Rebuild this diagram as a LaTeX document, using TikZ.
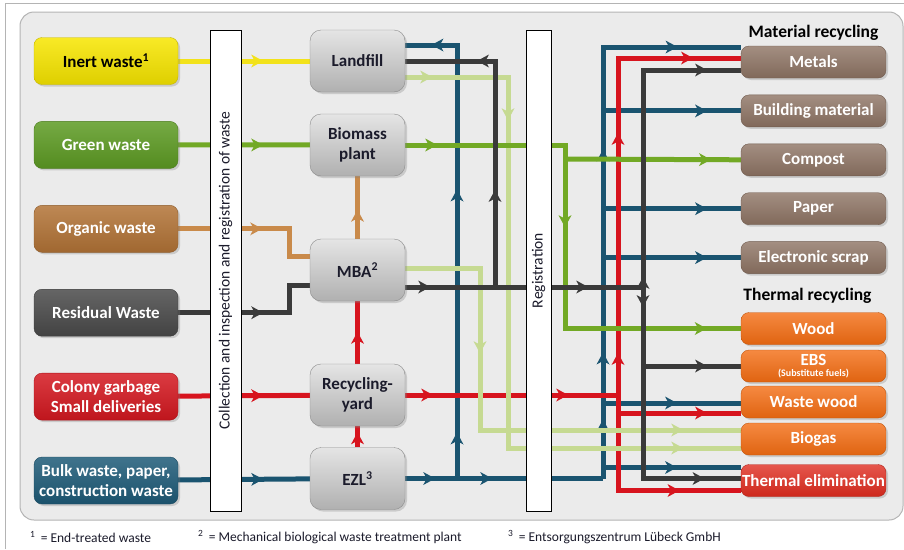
\documentclass[tikz,border=0pt]{standalone}
\usepackage{fontspec}
\setmainfont{Carlito}
\usetikzlibrary{arrows.meta, positioning, shadows, decorations.markings}

\definecolor{framebg}{HTML}{EBEBEB}
\definecolor{frameline}{HTML}{B4B4B4}
\definecolor{cInert}{HTML}{F7E600}
\definecolor{cInertLn}{HTML}{F2E21A}
\definecolor{cGreen}{HTML}{5D9B23}
\definecolor{cGreenLn}{HTML}{72A925}
\definecolor{cOrganic}{HTML}{B27336}
\definecolor{cOrganicLn}{HTML}{C98A4A}
\definecolor{cResidual}{HTML}{4A4A4A}
\definecolor{cResidualLn}{HTML}{3A3A3A}
\definecolor{cColony}{HTML}{D41820}
\definecolor{cColonyLn}{HTML}{D7141E}
\definecolor{cBulk}{HTML}{1E5B78}
\definecolor{cBulkLn}{HTML}{1A5470}
\definecolor{cGas}{HTML}{C6DA92}
\definecolor{cMaterial}{HTML}{8C7262}
\definecolor{cThermal}{HTML}{F36C12}
\definecolor{cElim}{HTML}{DF2C1F}
\definecolor{cPlant}{HTML}{CFCFCF}
\definecolor{cPlantLn}{HTML}{8C8C8C}
\definecolor{cInk}{HTML}{1B1B2B}

\newcommand{\boxfont}{\fontsize{17}{20.5}\selectfont\bfseries}

\pgfdeclarelayer{frame}
\pgfdeclarelayer{lines}
\pgfsetlayers{frame,lines,main}

\begin{document}
\begin{tikzpicture}[x=1pt, y=-1pt, >={Stealth[length=12pt, width=13pt, inset=3.5pt, line width=0pt]},
        source/.style={rectangle, rounded corners=8pt, minimum width=144pt, minimum height=47pt, inner sep=0pt, align=center, font=\boxfont, text=white, draw=#1!80!black, top color=#1!85!white, bottom color=#1!90!black, drop shadow={opacity=0.3, shadow xshift=2pt, shadow yshift=-2pt}},
        plant/.style={rectangle, rounded corners=11pt, minimum width=95pt, minimum height=62pt, inner sep=0pt, align=center, font=\boxfont, text=cInk, draw=cPlantLn, top color=cPlant!55!white, bottom color=cPlant!85!black, drop shadow={opacity=0.3, shadow xshift=2pt, shadow yshift=-2pt}},
        target/.style={rectangle, rounded corners=8pt, minimum width=145pt, minimum height=32pt, inner sep=0pt, align=center, font=\boxfont, text=white, draw=#1!80!black, top color=#1!80!white, bottom color=#1!92!black, drop shadow={opacity=0.3, shadow xshift=2pt, shadow yshift=-2pt}},
        bar/.style={rectangle, draw=black, fill=white, line width=0.8pt, inner sep=0pt, font=\fontsize{15.5}{17}\selectfont, text=cInk},
        heading/.style={font=\fontsize{17.5}{19}\selectfont\bfseries, text=black, inner sep=0pt},
        foot/.style={font=\fontsize{13.5}{15}\selectfont, text=cInk, inner sep=0pt, anchor=west},
        flow/.style={line width=5pt},
        am/.style={postaction={decorate, decoration={markings, mark=at position #1 with {\arrow{>}}}}},
        inertline/.style={flow, color=cInertLn},
        greenline/.style={flow, color=cGreenLn},
        organicline/.style={flow, color=cOrganicLn},
        residualline/.style={flow, color=cResidualLn},
        colonyline/.style={flow, color=cColonyLn},
        bulkline/.style={flow, color=cBulkLn},
        gasline/.style={flow, color=cGas}
        ]
        \useasboundingbox (0,0) rectangle (904,549);

        % Frame
        \begin{pgfonlayer}{frame}
            \fill[white] (0,0) rectangle (904,549);
            \draw[frameline, line width=0.8pt] (5,549) -- (5,3) -- (904,3);
            \draw[frameline, fill=framebg, line width=1pt, rounded corners=14pt] (20,12) rectangle (903,520);
        \end{pgfonlayer}

        % Sources
        \node [source=cInert, text=black] (inert) at (106,61) {Inert waste\textsuperscript{1}};
        \node [source=cGreen, below=36.5pt of inert] (green) {Green waste};
        \node [source=cOrganic, below=36.5pt of green] (organic) {Organic waste};
        \node [source=cResidual, below=36.5pt of organic] (residual) {Residual Waste};
        \node [source=cColony, below=36.5pt of residual] (colony) {Colony garbage\\Small deliveries};
        \node [source=cBulk, below=36.5pt of colony] (bulk) {Bulk waste, paper,\\construction waste};

        % Plants
        \node [plant] (landfill) at (357.5,61) {Landfill};
        \node [plant] (biomass) at (357.5,145) {Biomass\\plant};
        \node [plant] (mba) at (357.5,270) {MBA\textsuperscript{2}};
        \node [plant] (recycling) at (357.5,395) {Recycling-\\yard};
        \node [plant] (ezl) at (357.5,478.5) {EZL\textsuperscript{3}};

        % Bars
        \node [bar, rotate=90, minimum width=481pt, minimum height=31pt] (collect) at (225.5,270.5) {Collection and inspection and registration of waste};
        \node [bar, rotate=90, minimum width=481pt, minimum height=25pt] (regist) at (538.5,270.5) {Registration};

        % Targets
        \node [heading] (mattitle) at (813.5,33) {Material recycling};
        \node [target=cMaterial] (metals) at (813.5,62) {Metals};
        \node [target=cMaterial, below=16.5pt of metals] (building) {Building material};
        \node [target=cMaterial, below=16.5pt of building] (compost) {Compost};
        \node [target=cMaterial, below=16.5pt of compost] (paper) {Paper};
        \node [target=cMaterial, below=16.5pt of paper] (escrap) {Electronic scrap};

        \node [heading] (thermtitle) at (807.5,296) {Thermal recycling};
        \node [target=cThermal] (wood) at (813.5,328.5) {Wood};
        \node [target=cThermal] (ebs) at (813.5,366) {EBS\\[-10pt]{\fontsize{10}{10}\selectfont(Substitute fuels)}};
        \node [target=cThermal] (wastewood) at (813.5,402) {Waste wood};
        \node [target=cThermal] (biogas) at (813.5,439) {Biogas};
        \node [target=cElim] (elim) at (813.5,480.5) {Thermal elimination};

        % Footnotes
        \node [foot] (fn1) at (30,537) {\textsuperscript{1}\, = End-treated waste};
        \node [foot] (fn2) at (198,537) {\textsuperscript{2}\, = Mechanical biological waste treatment plant};
        \node [foot] (fn3) at (508,537) {\textsuperscript{3}\, = Entsorgungszentrum Lübeck GmbH};

        % Junctions
        \coordinate (darkjoin) at (495,287);
        \coordinate (darkbus) at (643,287);
        \coordinate (bulkjoin) at (457,478.5);
        \coordinate (bulkbus) at (603,478.5);
        \coordinate (colonybus) at (618,395);
        \coordinate (greenbus) at (565,159);
        \coordinate (gasA) at (480,430);
        \coordinate (gasB) at (508,448);
        \coordinate (landfillB) at ([yshift=16pt]landfill.east);
        \coordinate (landfillG) at ([yshift=-16pt]landfill.east);
        \coordinate (mbaO) at ([yshift=14pt]mba.west);
        \coordinate (mbaD) at ([yshift=-15pt]mba.west);
        \coordinate (mbaG) at ([yshift=2pt]mba.east);
        \coordinate (mbaDout) at ([yshift=-17pt]mba.east);
        \coordinate (metalsB) at ([yshift=15pt]metals.west);
        \coordinate (metalsR) at ([yshift=4pt]metals.west);
        \coordinate (metalsD) at ([yshift=-8pt]metals.west);
        \coordinate (wwB) at ([yshift=-1pt]wastewood.west);
        \coordinate (wwR) at ([yshift=-11pt]wastewood.west);
        \coordinate (gasInA) at ([yshift=9pt]biogas.west);
        \coordinate (gasInB) at ([yshift=-9pt]biogas.west);
        \coordinate (elimB) at ([yshift=13pt]elim.west);
        \coordinate (elimD) at ([yshift=2pt]elim.west);
        \coordinate (elimR) at ([yshift=-10pt]elim.west);

        \begin{pgfonlayer}{lines}
        % Bulk flows
        \draw[bulkline, am=85pt] (bulk) -- (ezl);
        \draw[bulkline, am=30pt, am=87pt] (ezl.east) -- (bulkbus);
        \draw[bulkline, am=46pt, am=289pt, am=459pt] (bulkjoin) |- (landfillB);
        \draw[bulkline, am=59pt, am=126pt, am=329pt, am=506pt] (bulkbus) |- (metalsB);
        \draw[bulkline, am=104pt] (bulkbus |- building.west) -- (building.west);
        \draw[bulkline, am=104pt] (bulkbus |- paper.west) -- (paper.west);
        \draw[bulkline, am=104pt] (bulkbus |- escrap.west) -- (escrap.west);
        \draw[bulkline, am=74pt] (bulkbus |- wwB) -- (wwB);
        \draw[bulkline, am=74pt] (bulkbus |- elimB) -- (elimB);

        % Colony flows
        \draw[colonyline, am=85pt] (colony) -- (recycling);
        \draw[colonyline, am=28pt, am=163pt] (recycling.east) -- (colonybus);
        \draw[colonyline, am=42pt, am=262pt, am=412pt] (colonybus) |- (metalsR);
        \draw[colonyline, am=157pt] (colonybus) |- (elimR);
        \draw[colonyline, am=89pt] (colonybus |- wwR) -- (wwR);
        \draw[colonyline, am=32pt] (recycling) -- (mba);
        \draw[colonyline, am=15pt] (ezl) -- (recycling);

        % Gas flows
        \draw[gasline, am=160pt, am=440pt] (mbaG) -| (gasA) -- (gasInA);
        \draw[gasline, am=27pt, am=146pt, am=649pt] (landfillG) -| (gasB) -- (gasInB);

        % Green flows
        \draw[greenline, am=85pt] (green) -- (biomass);
        \draw[greenline, am=32pt, am=242pt, am=485pt] (biomass.east) -| (greenbus) |- (wood.west);
        \draw[greenline, am=146pt] (greenbus) -- (compost.west);

        % Residual flows
        \draw[residualline, am=85pt] (residual.east) -| ([xshift=-20pt]mbaD) -- (mbaD);
        \draw[residualline, am=25pt, am=183pt] (mbaDout) -- (darkbus);
        \draw[residualline, am=97pt, am=244pt] (darkjoin) |- (landfill.east);
        \draw[residualline, am=10pt, am=281pt] (darkbus) |- (metalsD);
        \draw[residualline, am=20pt, am=253pt] (darkbus) |- (elimD);
        \draw[residualline, am=64pt] (darkbus |- ebs.west) -- (ebs.west);

        % Organic and inert flows
        \draw[organicline, am=84pt] (organic.east) -| ([xshift=-20pt]mbaO) -- (mbaO);
        \draw[organicline, am=29pt] (mba) -- (biomass);
        \draw[inertline, am=85pt] (inert) -- (landfill);
        \end{pgfonlayer}

    \end{tikzpicture}
\end{document}
